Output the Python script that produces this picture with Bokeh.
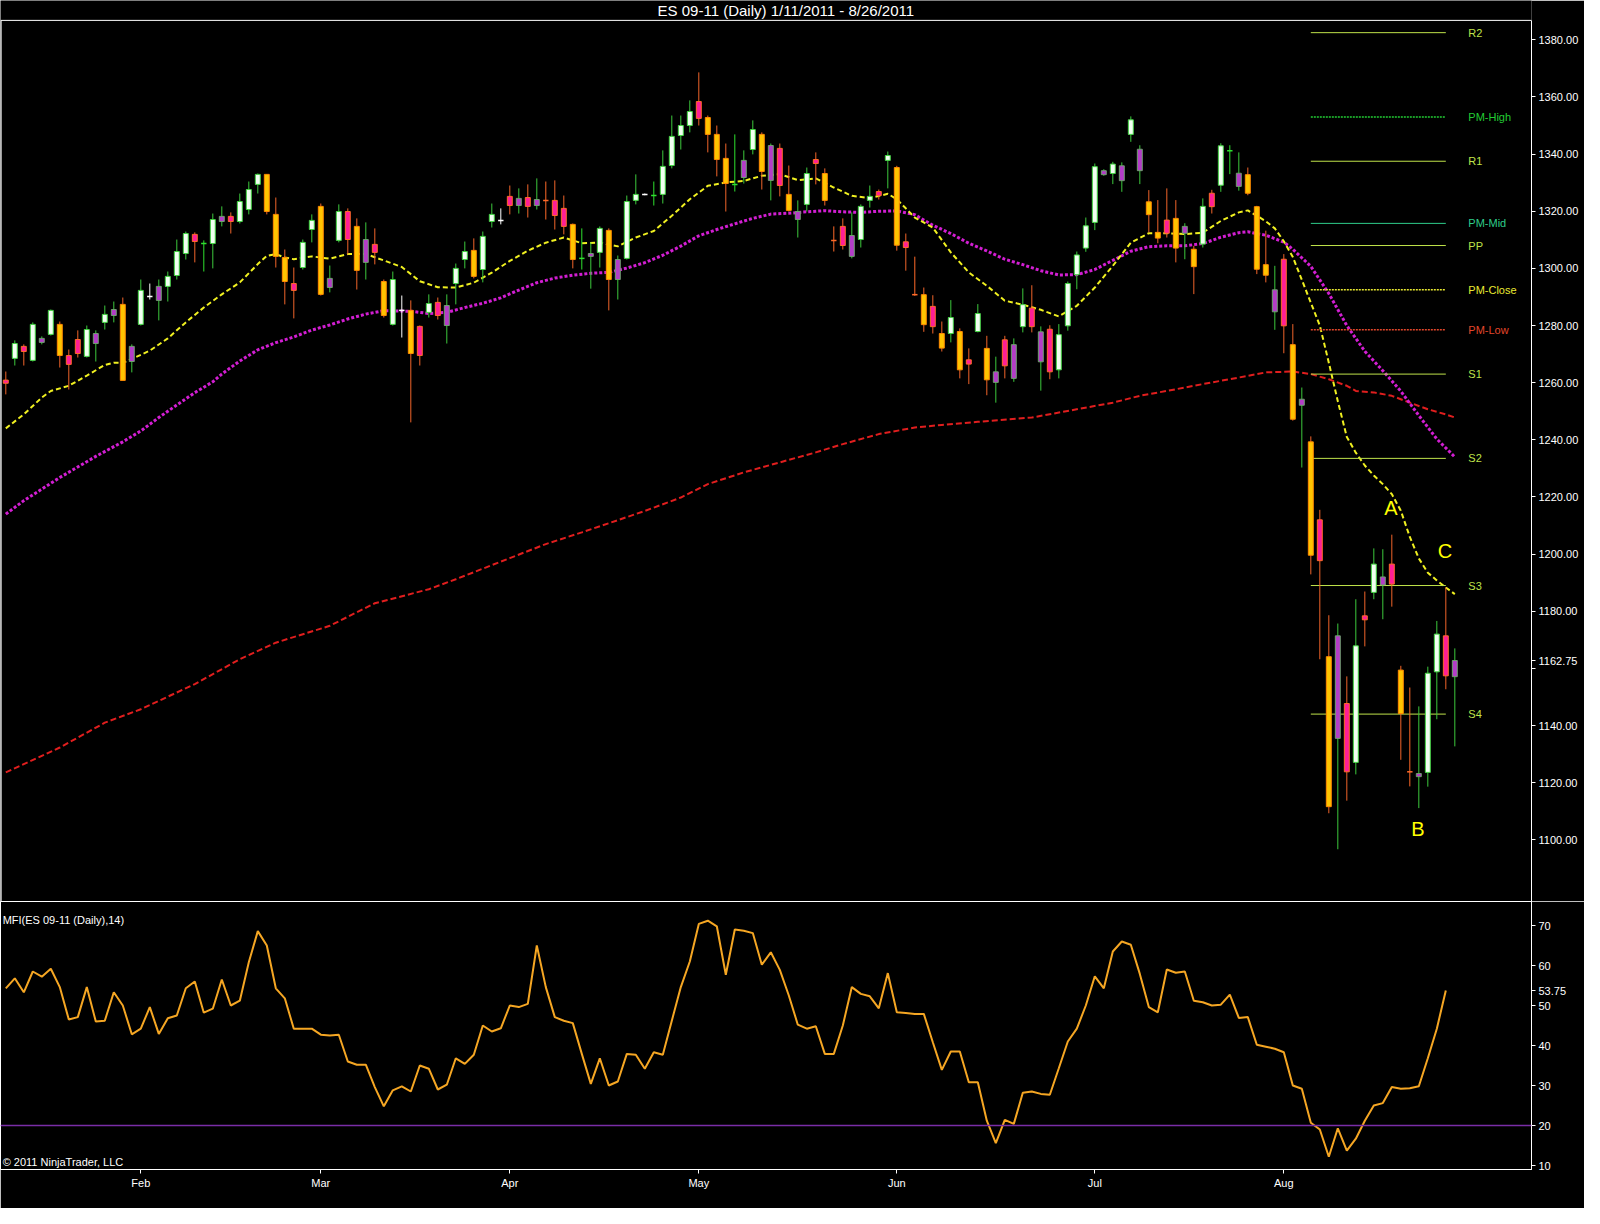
from bokeh.plotting import figure
from bokeh.layouts import column
from bokeh.models import ColumnDataSource, Range1d, FixedTicker, PrintfTickFormatter, Span
from bokeh.core.properties import value
from bokeh.embed import file_html
from bokeh.resources import INLINE

# ---------------- data ----------------
TITLE = "ES 09-11 (Daily)  1/11/2011 - 8/26/2011"
MONTH_TICKS = [15, 35, 56, 77, 99, 121, 142]
MONTH_LABELS = ["Feb", "Mar", "Apr", "May", "Jun", "Jul", "Aug"]
PRICE_TICKS = [1100, 1120, 1140, 1160, 1180, 1200, 1220, 1240, 1260, 1280, 1300, 1320, 1340, 1360, 1380]
MFI_TICKS = [10, 20, 30, 40, 50, 60, 70]

OPEN = [1260.9, 1268.5, 1272.7, 1267.8, 1274.1, 1276.9, 1280.4, 1269.5, 1275.1, 1269.2,
        1273.7, 1281.1, 1283.5, 1287.4, 1267.4, 1280.4, 1290.2, 1288.8, 1293.7, 1297.5,
        1305.2, 1311.9, 1308.7, 1308.7, 1316.4, 1318.2, 1316.4, 1320.6, 1329.4, 1332.9,
        1318.9, 1303.8, 1294.7, 1300.3, 1313.6, 1321.7, 1293.3, 1309.8, 1319.9, 1314.7,
        1302.1, 1308.4, 1295.4, 1280.4, 1285.3, 1285.3, 1279.7, 1284.6, 1288.1, 1280.0,
        1294.7, 1303.1, 1306.3, 1299.6, 1316.4, 1316.8, 1325.2, 1322.0, 1324.8, 1322.0,
        1323.8, 1323.8, 1321.0, 1315.4, 1303.5, 1304.2, 1305.6, 1313.3, 1296.1, 1303.5,
        1323.8, 1325.9, 1325.5, 1325.9, 1336.0, 1346.5, 1350.0, 1358.4, 1352.8, 1346.9,
        1338.5, 1329.4, 1331.8, 1341.6, 1346.9, 1330.8, 1342.0, 1325.9, 1317.1, 1322.4,
        1338.1, 1333.2, 1309.8, 1314.7, 1304.2, 1310.1, 1323.8, 1326.9, 1337.8, 1335.3,
        1309.3, 1290.8, 1290.8, 1286.7, 1277.2, 1277.2, 1277.9, 1268.0, 1277.9, 1272.0,
        1260.1, 1275.0, 1261.5, 1279.6, 1286.1, 1267.3, 1278.7, 1264.5, 1279.9, 1297.8,
        1307.1, 1316.1, 1332.8, 1333.2, 1330.7, 1346.9, 1334.2, 1323.3, 1312.6, 1316.9,
        1317.5, 1312.3, 1306.7, 1308.5, 1326.3, 1329.1, 1341.2, 1328.7, 1332.8, 1321.6,
        1301.3, 1284.8, 1303.2, 1273.3, 1252.1, 1239.3, 1212.0, 1164.1, 1135.5, 1147.7,
        1127.1, 1178.4, 1186.6, 1189.2, 1196.5, 1159.4, 1123.8, 1122.1, 1123.6, 1158.8,
        1171.4, 1157.1]
HIGH = [1263.9, 1274.8, 1273.4, 1281.1, 1276.2, 1285.6, 1281.4, 1271.6, 1278.3, 1280.0,
        1278.3, 1287.0, 1288.4, 1289.8, 1273.4, 1296.1, 1294.7, 1296.1, 1298.9, 1310.1,
        1312.9, 1312.6, 1309.8, 1319.2, 1321.7, 1319.6, 1326.2, 1330.4, 1333.2, 1332.9,
        1324.8, 1306.6, 1300.3, 1310.1, 1318.9, 1322.7, 1301.0, 1322.4, 1321.0, 1317.5,
        1316.1, 1314.0, 1296.1, 1298.9, 1290.5, 1288.8, 1280.0, 1290.9, 1289.8, 1290.9,
        1301.7, 1309.4, 1310.5, 1312.9, 1322.7, 1321.0, 1329.0, 1328.0, 1329.4, 1331.5,
        1330.4, 1330.8, 1325.5, 1315.7, 1314.0, 1309.1, 1314.7, 1314.0, 1304.5, 1325.5,
        1332.9, 1326.2, 1330.4, 1341.3, 1353.5, 1353.5, 1358.8, 1368.6, 1353.5, 1350.0,
        1343.7, 1346.9, 1341.3, 1351.8, 1347.6, 1343.7, 1343.7, 1336.0, 1323.8, 1335.3,
        1340.6, 1335.0, 1314.7, 1317.5, 1319.6, 1322.4, 1329.0, 1327.6, 1340.9, 1335.9,
        1312.2, 1304.1, 1293.3, 1290.6, 1281.4, 1288.9, 1279.0, 1272.0, 1287.5, 1276.4,
        1269.1, 1276.4, 1275.5, 1293.0, 1294.1, 1279.7, 1280.1, 1280.5, 1295.4, 1305.9,
        1317.8, 1336.7, 1334.7, 1337.3, 1337.1, 1353.2, 1343.1, 1327.4, 1323.9, 1328.0,
        1323.9, 1315.8, 1307.9, 1324.5, 1327.5, 1343.8, 1343.1, 1340.6, 1335.3, 1321.9,
        1313.2, 1300.9, 1305.0, 1280.5, 1258.3, 1241.2, 1215.5, 1178.6, 1175.7, 1157.2,
        1184.2, 1186.9, 1202.0, 1201.7, 1206.8, 1160.9, 1153.3, 1146.7, 1160.6, 1176.6,
        1188.3, 1167.0]
LOW = [1255.9, 1266.0, 1266.0, 1267.4, 1273.4, 1276.5, 1265.3, 1257.6, 1268.8, 1268.8,
       1267.4, 1278.6, 1281.1, 1260.8, 1263.6, 1280.0, 1289.1, 1281.8, 1288.4, 1296.1,
       1303.1, 1302.1, 1298.9, 1300.0, 1314.7, 1312.2, 1315.7, 1318.9, 1326.2, 1318.9,
       1300.3, 1287.4, 1282.5, 1299.6, 1309.1, 1290.5, 1291.6, 1309.1, 1304.9, 1292.6,
       1296.1, 1301.4, 1282.8, 1280.0, 1275.8, 1246.1, 1266.0, 1282.8, 1282.1, 1273.7,
       1287.4, 1300.0, 1296.5, 1295.1, 1314.3, 1315.4, 1318.9, 1319.2, 1317.8, 1320.6,
       1317.1, 1313.6, 1311.9, 1300.0, 1299.6, 1292.9, 1300.3, 1285.3, 1289.1, 1303.1,
       1322.4, 1325.6, 1322.0, 1322.7, 1335.0, 1341.6, 1347.6, 1350.0, 1340.6, 1332.2,
       1319.9, 1326.9, 1329.7, 1339.9, 1327.6, 1323.8, 1325.2, 1319.9, 1310.8, 1319.9,
       1329.4, 1322.0, 1305.9, 1306.6, 1303.5, 1307.3, 1321.3, 1324.1, 1328.0, 1306.2,
       1299.2, 1290.4, 1277.8, 1277.2, 1270.9, 1274.1, 1261.5, 1259.5, 1277.6, 1255.6,
       1253.0, 1261.5, 1260.3, 1277.6, 1277.6, 1257.2, 1261.2, 1261.5, 1278.2, 1292.7,
       1305.8, 1313.4, 1332.4, 1329.5, 1326.8, 1344.3, 1329.5, 1312.6, 1308.8, 1310.8,
       1302.1, 1303.2, 1291.0, 1307.3, 1319.2, 1326.8, 1333.0, 1327.2, 1325.6, 1298.0,
       1295.1, 1278.5, 1270.3, 1246.7, 1230.3, 1192.9, 1163.2, 1109.3, 1096.7, 1113.7,
       1122.9, 1167.7, 1184.2, 1177.2, 1181.6, 1128.0, 1118.7, 1111.1, 1118.6, 1142.2,
       1152.7, 1132.7]
CLOSE = [1259.8, 1273.7, 1270.9, 1280.4, 1275.5, 1285.3, 1269.5, 1266.4, 1270.2, 1278.6,
         1277.2, 1283.9, 1285.6, 1260.8, 1272.7, 1292.3, 1290.2, 1293.7, 1297.2, 1305.9,
         1312.2, 1309.4, 1308.7, 1317.1, 1318.2, 1316.4, 1323.4, 1327.6, 1332.9, 1319.9,
         1304.2, 1295.4, 1292.3, 1309.1, 1316.8, 1290.9, 1296.5, 1319.9, 1310.1, 1299.3,
         1310.1, 1305.6, 1283.5, 1296.1, 1285.3, 1270.2, 1269.5, 1287.7, 1283.5, 1287.0,
         1300.0, 1305.9, 1297.2, 1311.2, 1318.9, 1316.8, 1322.0, 1324.5, 1321.7, 1324.1,
         1323.8, 1318.5, 1314.7, 1303.1, 1303.5, 1305.2, 1314.0, 1296.1, 1303.1, 1323.4,
         1325.9, 1325.9, 1325.5, 1335.7, 1346.2, 1350.0, 1354.9, 1352.5, 1346.9, 1338.1,
         1329.7, 1329.4, 1337.8, 1348.6, 1333.9, 1343.0, 1329.0, 1320.3, 1319.9, 1333.2,
         1336.7, 1323.8, 1309.8, 1308.0, 1311.5, 1321.7, 1325.2, 1325.5, 1339.5, 1308.1,
         1307.3, 1290.8, 1280.3, 1279.6, 1272.1, 1282.8, 1264.5, 1266.5, 1284.2, 1261.0,
         1263.8, 1265.9, 1273.3, 1287.3, 1279.6, 1277.8, 1263.8, 1276.8, 1294.7, 1304.7,
         1314.9, 1335.6, 1334.2, 1336.5, 1335.9, 1352.0, 1341.7, 1318.8, 1310.6, 1312.3,
         1307.1, 1314.7, 1300.6, 1321.7, 1321.6, 1342.9, 1341.2, 1333.3, 1326.3, 1299.7,
         1297.6, 1292.5, 1279.9, 1247.2, 1254.2, 1199.6, 1197.7, 1111.6, 1171.4, 1123.8,
         1167.9, 1177.0, 1196.5, 1192.0, 1189.5, 1144.2, 1123.8, 1123.2, 1158.3, 1172.0,
         1157.4, 1162.75]
# bar colouring: U up/white, u up/purple, D down/gold, d down/pink, W/G/O = doji crosses
KIND = ("dUdUuUDddU" "uUuDuUWuUU" "UdGUudUUUD" "DDdUUDuUdD" "udDUWDdUdu"
        "UUDUUWdudu" "OddDGuUDuU" "UWGUUUUdDD" "DGuUDudDuU" "dDOduUUdUD"
        "dODdDUDdUD" "uduUdudUUU" "UUuUuUuDDd" "DuDUdUGuDD" "DudDuDdDud"
        "UdUudDOuUU" "du")

YELLOW_X = [0, 2, 4, 5, 7, 9, 11, 12, 13, 14, 16, 18, 20, 22, 24, 26, 28, 29, 30, 31, 32, 34, 36, 38, 40,
            42, 44, 46, 48, 50, 52, 54, 56, 58, 60, 62, 64, 66, 68, 70, 72, 74, 76, 78, 80, 82, 84, 86,
            88, 90, 92, 94, 96, 98, 99, 101, 103, 105, 107, 109, 111, 113, 115, 117, 119, 121, 123, 125,
            127, 129, 131, 133, 135, 137, 138, 139, 140, 141, 142, 143, 144, 145, 146, 147, 148, 149,
            150, 151, 152, 153, 154, 155, 156, 157, 158, 159, 160, 161]
YELLOW_V = [1244.0, 1248.9, 1254.8, 1257.1, 1258.9, 1262.5, 1266.2, 1267.0, 1266.9, 1268.3, 1271.2,
            1275.5, 1281.1, 1286.3, 1290.9, 1295.1, 1301.5, 1304.4, 1305.0, 1303.8, 1303.2, 1304.2,
            1303.4, 1305.0, 1305.0, 1302.8, 1300.5, 1295.5, 1293.4, 1293.3, 1295.0, 1298.5, 1302.6,
            1306.2, 1309.0, 1310.8, 1308.8, 1309.0, 1307.7, 1310.8, 1313.1, 1318.4, 1324.2, 1328.9,
            1330.1, 1330.6, 1332.4, 1333.0, 1330.9, 1331.5, 1328.3, 1325.4, 1324.6, 1326.1, 1324.2,
            1317.8, 1314.3, 1305.6, 1298.6, 1293.9, 1288.7, 1287.3, 1285.5, 1283.2, 1286.9, 1293.3,
            1300.9, 1309.0, 1312.3, 1312.3, 1312.0, 1312.5, 1316.6, 1319.6, 1320.3, 1318.4, 1316.5,
            1314.0, 1309.5, 1304.0, 1296.0, 1288.0, 1280.0, 1267.0, 1253.5, 1241.0, 1235.5, 1231.0,
            1227.5, 1224.5, 1221.0, 1215.2, 1206.0, 1198.5, 1193.5, 1190.8, 1188.3, 1186.0]

MAGENTA_X = [0, 2, 6, 10, 13, 15, 17, 19, 21, 23, 24, 26, 28, 30, 32, 34, 36, 38, 40, 42, 45, 47, 49,
             51, 53, 55, 57, 59, 61, 63, 65, 67, 69, 71, 73, 75, 77, 79, 81, 83, 85, 87, 89, 91, 93,
             95, 97, 99, 101, 103, 105, 107, 109, 111, 113, 115, 117, 119, 121, 123, 125, 127, 129,
             131, 133, 135, 137, 138, 140, 142, 143, 145, 147, 149, 151, 153, 155, 157, 159, 161]
MAGENTA_V = [1214.0, 1218.7, 1226.8, 1234.2, 1239.3, 1243.1, 1247.8, 1252.2, 1256.5, 1260.3, 1263.0,
             1267.6, 1271.5, 1274.0, 1276.0, 1278.4, 1280.2, 1282.3, 1284.0, 1285.2, 1285.0, 1284.2,
             1284.6, 1286.3, 1287.8, 1289.7, 1292.4, 1295.0, 1296.6, 1297.6, 1298.3, 1298.6, 1300.1,
             1302.0, 1304.6, 1307.8, 1311.4, 1313.6, 1315.6, 1317.5, 1319.0, 1319.3, 1319.8, 1320.2,
             1319.8, 1319.6, 1320.0, 1320.1, 1318.8, 1315.1, 1312.2, 1308.8, 1306.1, 1303.2, 1301.3,
             1299.2, 1297.7, 1297.8, 1299.6, 1302.8, 1306.0, 1307.6, 1307.9, 1307.9, 1308.7, 1310.9,
             1312.5, 1312.8, 1311.6, 1309.2, 1306.7, 1300.7, 1291.2, 1280.0, 1271.0, 1264.2, 1257.0,
             1248.5, 1240.3, 1234.0]

RED_X = [0, 4, 6, 11, 15, 21, 26, 30, 36, 41, 47, 50, 56, 60, 64, 67, 71, 75, 78, 82, 86, 90, 93, 97,
         101, 104, 108, 114, 123, 126, 130, 133, 137, 140, 143, 145, 147, 149, 150, 152, 154, 156, 158,
         160, 161]
RED_V = [1123.6, 1129.4, 1132.3, 1141.0, 1145.7, 1154.5, 1163.2, 1169.0, 1174.9, 1182.8, 1187.7, 1191.2,
         1198.6, 1203.5, 1207.6, 1210.8, 1215.1, 1219.8, 1224.5, 1228.6, 1232.1, 1235.6, 1238.5, 1242.0,
         1244.3, 1245.2, 1246.3, 1247.8, 1253.0, 1255.4, 1257.7, 1259.5, 1261.8, 1263.6, 1263.9, 1263.0,
         1261.2, 1258.9, 1257.1, 1256.6, 1255.4, 1253.0, 1250.7, 1248.9, 1247.8]

MFI = [54.3, 56.8, 53.3, 58.5, 57.2, 59.2, 54.6, 46.5, 47.1, 54.6,
       46.0, 46.2, 53.3, 50.0, 42.8, 44.2, 49.6, 42.9, 46.8, 47.5,
       54.3, 56.0, 48.2, 49.2, 56.5, 50.0, 51.2, 60.8, 68.6, 65.0,
       54.3, 51.8, 44.2, 44.2, 44.2, 42.7, 42.5, 42.7, 36.0, 35.2,
       35.2, 29.6, 24.8, 28.8, 29.8, 28.5, 35.0, 34.2, 29.0, 30.2,
       36.8, 35.4, 37.7, 45.0, 43.5, 44.3, 50.0, 49.6, 50.4, 65.0,
       54.6, 47.1, 46.2, 45.6, 37.9, 30.4, 36.8, 30.0, 31.0, 37.9,
       37.7, 34.2, 38.3, 37.7, 46.2, 54.6, 61.0, 70.4, 71.2, 69.8,
       57.7, 69.0, 68.7, 68.1, 60.2, 63.3, 58.9, 52.5, 45.2, 44.2,
       44.8, 37.9, 37.9, 45.0, 54.6, 52.9, 52.3, 49.3, 58.1, 48.3,
       48.1, 47.9, 47.9, 40.8, 33.9, 38.5, 38.5, 30.8, 30.8, 21.2,
       15.6, 21.4, 20.4, 28.2, 28.5, 27.9, 27.7, 34.3, 41.0, 44.2,
       50.0, 57.3, 54.3, 63.5, 66.0, 65.2, 57.9, 49.6, 48.3, 59.0,
       58.2, 58.5, 51.2, 50.8, 50.0, 50.2, 52.7, 46.9, 47.1, 40.2,
       39.7, 39.2, 38.3, 30.0, 29.2, 20.7, 19.0, 12.2, 19.3, 13.7,
       16.7, 21.2, 25.0, 25.6, 29.6, 29.2, 29.3, 29.8, 36.8, 44.2,
       53.75]
MFI_LEVEL = 20
LAST_PRICE = 1162.75
LAST_MFI = 53.75

PIVOT_NAMES = ["R2", "PM-High", "R1", "PM-Mid", "PP", "PM-Close", "PM-Low", "S1", "S2", "S3", "S4"]
PIVOT_VALUES = [1382.5, 1353.0, 1337.5, 1315.75, 1308.0, 1292.5, 1278.5, 1263.0, 1233.5, 1189.0, 1144.0]
PIVOT_FROM, PIVOT_TO = 145, 160

LETTERS = ["A", "B", "C"]
LETTER_X = [153.9, 156.9, 159.9]
LETTER_Y = [1216.3, 1103.7, 1201.2]

# ---------------- styles ----------------
FONT = "Liberation Sans"
BG = "#000000"
KIND_STYLE = {  # fill, outline, wick
    "U": ("#f2fff2", "#44d444", "#3cc83c"),
    "u": ("#b43cc8", "#6f9f6f", "#3cc83c"),
    "D": ("#ffc400", "#ff8a00", "#f0642a"),
    "d": ("#ff1e96", "#ff6a28", "#f0642a"),
}
CROSS_STYLE = {"W": "#ffffff", "G": "#2ee02e", "O": "#ff6a28"}
PIVOT_STYLE = {
    "R2": ("#bfe34a", None), "R1": ("#bfe34a", None), "PP": ("#bfe34a", None),
    "S1": ("#bfe34a", None), "S2": ("#bfe34a", None), "S3": ("#bfe34a", None), "S4": ("#bfe34a", None),
    "PM-High": ("#22cc33", "2 1"), "PM-Mid": ("#2ecc8a", None),
    "PM-Close": ("#e8e830", "2 1"), "PM-Low": ("#e2462a", "2 1"),
}

X0, X1 = -0.589, 169.52
P_LO, P_HI = 1078.41, 1393.76
P_TOP = 1386.8
xr = Range1d(X0, X1)


def style_axis(ax):
    ax.axis_line_color = "white"
    ax.major_tick_line_color = "white"
    ax.minor_tick_line_color = None
    ax.major_tick_out = 4
    ax.major_tick_in = 0
    ax.major_label_text_color = "white"
    ax.major_label_text_font = FONT
    ax.major_label_text_font_size = "11px"
    ax.major_label_standoff = 3


# ---------------- price panel ----------------
p = figure(width=1584, height=901, x_range=xr, y_range=Range1d(P_LO, P_HI),
           output_backend="svg", toolbar_location=None, x_axis_location=None,
           y_axis_location="right", background_fill_color=BG, border_fill_color=BG,
           outline_line_color=None, min_border_left=0, min_border_right=53,
           min_border_top=0, min_border_bottom=0)
p.grid.visible = False
yax = p.yaxis[0]
style_axis(yax)
yax.ticker = FixedTicker(ticks=sorted(PRICE_TICKS + [LAST_PRICE]))
yax.formatter = PrintfTickFormatter(format="%.2f")
# the last-price marker covers the 1160 label in the reference
yax.major_label_overrides = {1160: "", LAST_PRICE: f"{LAST_PRICE:.2f}"}
yax.bounds = (P_LO, P_TOP)

p.add_layout(Span(location=P_TOP, dimension="width", line_color="white", line_width=1))
p.segment(x0=[X0 + 0.04], x1=[X0 + 0.04], y0=[P_LO], y1=[P_TOP], line_color="white", line_width=1.5)

p.text(x=[86.9], y=[1393.4], text=[TITLE], text_color="white", text_font=value(FONT),
       text_font_size="15px", text_align="center", text_baseline="top")

# moving averages
p.line(RED_X, RED_V, line_color="#e01e1e", line_width=2, line_dash="6 3")
p.line(MAGENTA_X, MAGENTA_V, line_color="#d21ed2", line_width=3, line_dash="3 2")
p.line(YELLOW_X, YELLOW_V, line_color="#f0f020", line_width=2, line_dash="5 3")

# pivots
for name, val in zip(PIVOT_NAMES, PIVOT_VALUES):
    col, dash = PIVOT_STYLE[name]
    kw = dict(line_dash=dash) if dash else {}
    p.segment(x0=[PIVOT_FROM], x1=[PIVOT_TO], y0=[val], y1=[val], line_color=col,
              line_width=1.5 if dash else 1, **kw)
p.text(x=[162.5] * len(PIVOT_NAMES), y=PIVOT_VALUES, text=PIVOT_NAMES,
       text_color=[PIVOT_STYLE[n][0] for n in PIVOT_NAMES], text_font=value(FONT),
       text_font_size="11px", text_baseline="middle", text_align="left")

# candles
idx = list(range(len(OPEN)))
wick_col = [KIND_STYLE[k][2] if k in KIND_STYLE else CROSS_STYLE[k] for k in KIND]
p.segment(x0=idx, x1=idx, y0=LOW, y1=HIGH, line_color=wick_col, line_width=1)

bi = [i for i in idx if KIND[i] in KIND_STYLE]
body = ColumnDataSource(dict(
    x=bi,
    top=[max(OPEN[i], CLOSE[i]) for i in bi],
    bottom=[min(OPEN[i], CLOSE[i]) for i in bi],
    fill=[KIND_STYLE[KIND[i]][0] for i in bi],
    edge=[KIND_STYLE[KIND[i]][1] for i in bi],
))
p.vbar(x="x", top="top", bottom="bottom", width=0.55, fill_color="fill", line_color="edge",
       line_width=1, source=body)

ci = [i for i in idx if KIND[i] in CROSS_STYLE]
p.segment(x0=[i - 0.3 for i in ci], x1=[i + 0.3 for i in ci], y0=[OPEN[i] for i in ci],
          y1=[CLOSE[i] for i in ci], line_color=[CROSS_STYLE[KIND[i]] for i in ci], line_width=1.5)

p.text(x=LETTER_X, y=LETTER_Y, text=LETTERS, text_color="#ffff00", text_font=value(FONT),
       text_font_size="20px", text_align="center", text_baseline="middle")

# ---------------- MFI panel ----------------
q = figure(width=1584, height=307, x_range=xr, y_range=Range1d(9, 76),
           output_backend="svg", toolbar_location=None, x_axis_location="below",
           y_axis_location="right", background_fill_color=BG, border_fill_color=BG,
           outline_line_color="white", min_border_left=0, min_border_right=53,
           min_border_top=0, min_border_bottom=39)
q.grid.visible = False
for ax in (q.xaxis[0], q.yaxis[0]):
    style_axis(ax)
q.yaxis[0].ticker = FixedTicker(ticks=sorted(MFI_TICKS + [LAST_MFI]))
q.yaxis[0].major_label_overrides = {LAST_MFI: f"{LAST_MFI:.2f}"}
q.xaxis[0].ticker = FixedTicker(ticks=MONTH_TICKS)
q.xaxis[0].major_label_overrides = dict(zip(MONTH_TICKS, MONTH_LABELS))

q.add_layout(Span(location=MFI_LEVEL, dimension="width", line_color="#7a2da6", line_width=1.5))
q.line(list(range(len(MFI))), MFI, line_color="#f5a623", line_width=2)

q.text(x=[-0.35], y=[71.4], text=["MFI(ES 09-11 (Daily),14)"], text_color="white",
       text_font=value(FONT), text_font_size="11px", text_baseline="middle", text_align="left")
q.text(x=[-0.35], y=[9.4], text=["\u00a9 2011 NinjaTrader, LLC"], text_color="white",
       text_font=value(FONT), text_font_size="11px", text_baseline="bottom", text_align="left")

layout = column(p, q)
html = file_html(layout, INLINE, title="ES 09-11 (Daily)")
html = html.replace("<body>", '<body style="background:#000000">', 1)
open("out.html", "w").write(html)
